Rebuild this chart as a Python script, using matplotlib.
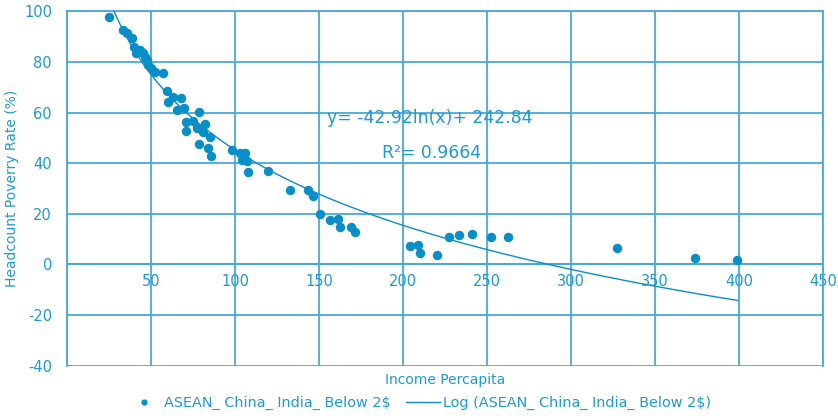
import numpy as np
import matplotlib
matplotlib.use("Agg")
import matplotlib.pyplot as plt
from matplotlib.lines import Line2D

plt.rcParams['axes.unicode_minus'] = False

# Data
income = [24.8, 33.3, 35.3, 38.3, 39.7, 40.9, 43.3, 45.2, 46.2, 47.6, 48.2, 49.6,
          52.2, 57.1, 59.5, 63.1, 60.1, 67.5, 65.1, 69.5, 78.6, 70.7, 75.0, 70.7,
          77.0, 82.0, 81.0, 84.9, 78.6, 83.9, 85.4, 98.2, 102.8, 105.8, 103.8,
          106.8, 107.7, 119.3, 132.6, 143.5, 146.1, 150.4, 156.4, 161.3, 162.7,
          168.7, 171.2, 204.0, 208.9, 209.9, 220.2, 227.2, 233.2, 241.1, 252.6,
          262.5, 327.6, 373.8, 399.0]
poverty = [97.8, 92.6, 91.3, 89.3, 86.0, 83.4, 84.7, 83.4, 82.1, 80.8, 78.8, 77.5,
           76.1, 75.5, 68.6, 66.3, 64.3, 65.9, 61.0, 61.7, 60.3, 56.4, 56.8, 52.8,
           53.8, 55.5, 52.4, 50.5, 47.6, 45.9, 42.8, 45.2, 43.9, 44.1, 41.2,
           40.9, 36.6, 36.9, 29.4, 29.4, 27.1, 19.9, 17.5, 17.8, 14.9,
           14.7, 12.9, 7.4, 7.7, 4.4, 3.7, 10.9, 11.6, 12.0, 10.9,
           10.7, 6.4, 2.4, 1.7]
fit_a = -42.92
fit_b = 242.84
r2 = 0.9664
xticks = [0, 50, 100, 150, 200, 250, 300, 350, 400, 450]
xtick_labels = ['', '50', '100', '150', '200', '250', '300', '350', '400', '450']
yticks = [-40, -20, 0, 20, 40, 60, 80, 100]

mark_c = '#0A8EC8'
grid_c = '#45ABDA'
text_c = '#1D9AD4'

fig = plt.figure(figsize=(8.38, 4.16), dpi=100)
ax = fig.add_axes([0.0803, 0.1209, 0.9017, 0.8519])

ax.set_xlim(0, 450)
ax.set_ylim(-40, 100)

xs = np.linspace(min(income), max(income), 400)
ax.plot(xs, fit_a * np.log(xs) + fit_b, color=mark_c, lw=1.0, zorder=3)
ax.plot(income, poverty, 'o', color=mark_c, markersize=6.8, markeredgewidth=0, zorder=4)

ax.set_xticks(xticks)
ax.set_xticklabels(xtick_labels)
ax.set_yticks(yticks)
ax.grid(True, color=grid_c, lw=1.3)
ax.set_axisbelow(True)
for s in ['top', 'right', 'left']:
    ax.spines[s].set_color(grid_c)
    ax.spines[s].set_linewidth(1.3)
ax.spines['bottom'].set_position(('data', 0))
ax.spines['bottom'].set_color(grid_c)
ax.spines['bottom'].set_linewidth(1.3)
ax.tick_params(axis='both', length=0, colors=text_c, labelsize=10.5)
ax.tick_params(axis='x', pad=7)
ax.tick_params(axis='y', pad=11)

ax.text(154.6, 57.8, 'y= -42.92ln(x)+ 242.84', color=text_c, fontsize=12.4, va='center', ha='left', zorder=5)
ax.text(187.3, 44.0, 'R²= 0.9664', color=text_c, fontsize=12.4, va='center', ha='left', zorder=5)

fig.text(0.531, 1 - 380 / 416, 'Income Percapita', color=text_c, fontsize=10, ha='center', va='center')
fig.text(12 / 838, 1 - 188 / 416, 'Headcount Poverry Rate (%)', color=text_c, fontsize=10,
         ha='center', va='center', rotation=90)

handles = [Line2D([], [], marker='o', linestyle='none', color=mark_c, markersize=3.5),
           Line2D([], [], color=mark_c, lw=1.0)]
leg = fig.legend(handles, ['ASEAN_ China_ India_ Below 2$', 'Log (ASEAN_ China_ India_ Below 2$)'],
                 loc='center', bbox_to_anchor=(0.5, 1 - 403 / 416), ncol=2, frameon=False,
                 fontsize=10.4, handlelength=2.4, handletextpad=0.2, columnspacing=1.0,
                 borderpad=0, borderaxespad=0)
for t in leg.get_texts():
    t.set_color(text_c)

fig.savefig('out.png', dpi=100)
